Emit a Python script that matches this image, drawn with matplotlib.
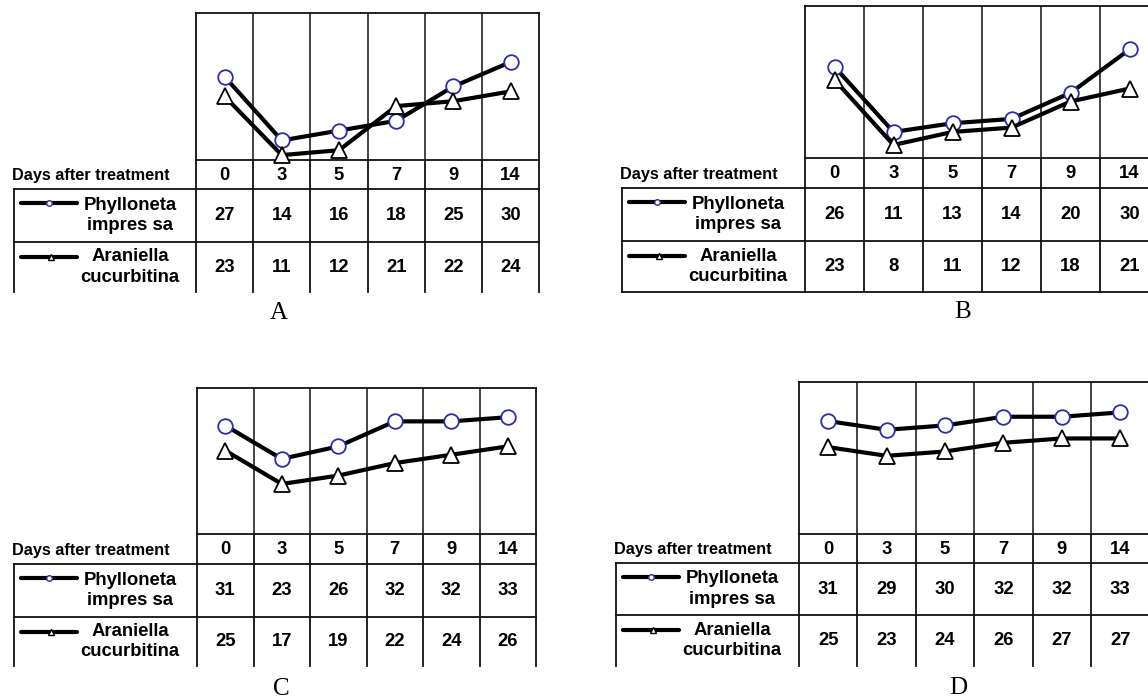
import matplotlib.pyplot as plt
import numpy as np

plt.rcParams['font.family'] = ['Liberation Sans', 'DejaVu Sans']

days = ['0', '3', '5', '7', '9', '14']
species = ['Phylloneta\nimpres sa', 'Araniella\ncucurbitina']
row_header = 'Days after treatment'

phylloneta_a = [27, 14, 16, 18, 25, 30]
araniella_a = [23, 11, 12, 21, 22, 24]
phylloneta_b = [26, 11, 13, 14, 20, 30]
araniella_b = [23, 8, 11, 12, 18, 21]
phylloneta_c = [31, 23, 26, 32, 32, 33]
araniella_c = [25, 17, 19, 22, 24, 26]
phylloneta_d = [31, 29, 30, 32, 32, 33]
araniella_d = [25, 23, 24, 26, 27, 27]

W, H = 1148, 699
LINE = '#111111'
BLUE = '#2d2da8'

fig = plt.figure(figsize=(W / 100, H / 100), dpi=100)
# pixel-space canvas for the tables under each chart
canvas = fig.add_axes([0, 0, 1, 1])
canvas.set_xlim(0, W)
canvas.set_ylim(H, 0)
canvas.axis('off')


def series_style(kind, small=False):
    """marker style for the two species (small=True for the legend swatch)"""
    if kind == 'o':
        return dict(marker='o', ms=4 if small else 10.5, mfc='white', mec=BLUE,
                    mew=1.0 if small else 1.3)
    return dict(marker='^', ms=5 if small else 11.5, mfc='white', mec='k',
                mew=1.0 if small else 1.3)


def draw_panel(phyll, aran, letter, x0, cw, top, pb, hb, r1, r2, lab,
               ylim, letter_xy, closed=False):
    """
    Line chart with the day columns, plus the value table underneath.
    All geometry arguments are in figure pixels (y measured from the top).
    """
    right = x0 + 6 * cw
    ax = fig.add_axes([x0 / W, 1 - pb / H, 6 * cw / W, (pb - top) / H])
    pos = np.arange(len(days))
    ax.plot(pos, phyll, color='k', lw=3.0, clip_on=False, zorder=3,
            **series_style('o'))
    ax.plot(pos, aran, color='k', lw=3.0, clip_on=False, zorder=3,
            **series_style('^'))
    ax.set_xlim(-0.5, 5.5)
    ax.set_ylim(*ylim)
    for k in range(1, 6):
        ax.axvline(k - 0.5, color=LINE, lw=1.1, zorder=1)
    ax.set_xticks([])
    ax.set_yticks([])
    for s in ax.spines.values():
        s.set_linewidth(1.3)
        s.set_color(LINE)

    # table grid
    for k in range(7):
        canvas.plot([x0 + k * cw] * 2, [pb, r2], color=LINE, lw=1.3)
    canvas.plot([lab, lab], [hb, r2], color=LINE, lw=1.3)
    for yy in (hb, r1) + ((r2,) if closed else ()):
        canvas.plot([lab, right], [yy, yy], color=LINE, lw=1.3)

    # header row
    canvas.text(lab - 2, (pb + hb) / 2 + 1, row_header, ha='left', va='center',
                fontsize=11.7, fontweight='bold')
    centers = [(hb + r1) / 2, (r1 + r2) / 2]
    for k, d in enumerate(days):
        cx = x0 + (k + 0.5) * cw
        canvas.text(cx, (pb + hb) / 2 + 1, d, ha='center', va='center',
                    fontsize=13.3, fontweight='bold')
        for cy, vals in zip(centers, (phyll, aran)):
            canvas.text(cx, cy, str(vals[k]), ha='center', va='center',
                        fontsize=13.3, fontweight='bold')

    # species names with a legend swatch
    for (cy, name, kind, swatch_y, mx) in [
            (centers[0], species[0], 'o', hb + 14, lab + 35),
            (centers[1], species[1], '^', r1 + 15, lab + 37)]:
        canvas.plot([lab + 7, lab + 63], [swatch_y, swatch_y], color='k',
                    lw=3.0, solid_capstyle='round')
        canvas.plot([mx], [swatch_y], linestyle='none',
                    **series_style(kind, small=True))
        canvas.text(lab + 116, cy, name, ha='center', va='center',
                    fontsize=13.3, fontweight='bold', linespacing=1.3)

    canvas.text(letter_xy[0], letter_xy[1], letter, ha='center', va='center',
                fontsize=18, family=['Liberation Serif', 'DejaVu Serif'])


draw_panel(phylloneta_a, araniella_a, 'A', x0=196, cw=57.2, top=13, pb=160,
           hb=189, r1=242, r2=292, lab=14, ylim=(10, 40), letter_xy=(279, 313))
draw_panel(phylloneta_b, araniella_b, 'B', x0=805, cw=59, top=6, pb=158,
           hb=188, r1=241, r2=292, lab=622, ylim=(5, 40), letter_xy=(963, 312),
           closed=True)
draw_panel(phylloneta_c, araniella_c, 'C', x0=197, cw=56.5, top=388, pb=534,
           hb=564, r1=617, r2=666, lab=14, ylim=(5, 40), letter_xy=(281, 689))
draw_panel(phylloneta_d, araniella_d, 'D', x0=799, cw=58.4, top=382, pb=534,
           hb=563, r1=615, r2=666, lab=616, ylim=(5, 40), letter_xy=(958, 688))

fig.savefig('out.png', dpi=100, facecolor='white')
